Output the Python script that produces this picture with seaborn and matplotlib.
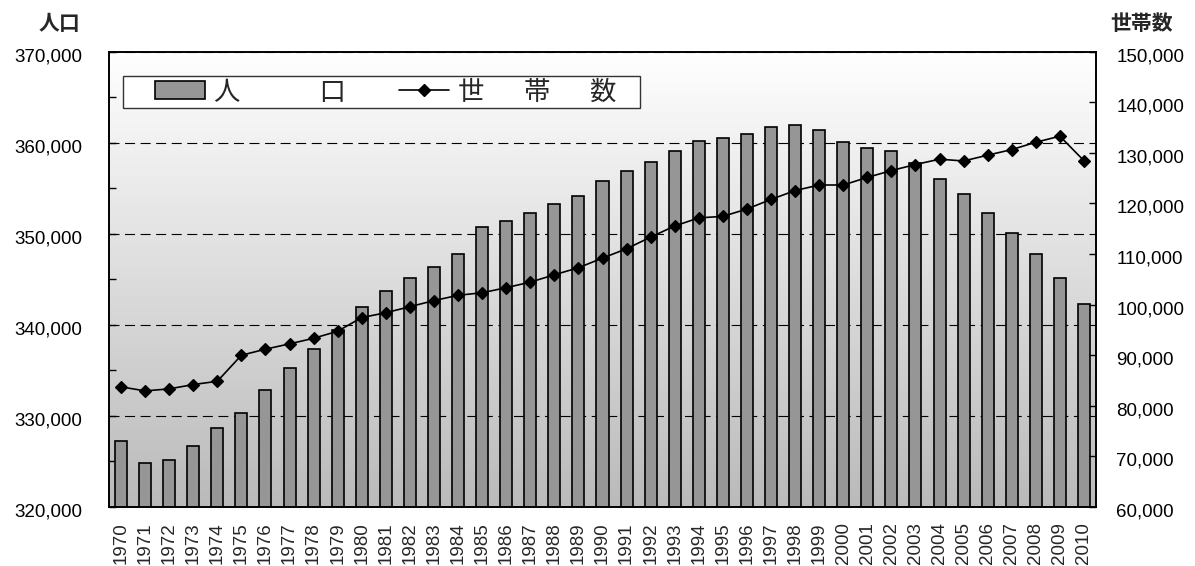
import numpy as np
import pandas as pd
import matplotlib
matplotlib.use("Agg")
import matplotlib.pyplot as plt
import matplotlib.transforms as mtransforms
from matplotlib.patches import Patch, Rectangle
from matplotlib.lines import Line2D
from matplotlib.colors import LinearSegmentedColormap
from matplotlib.ticker import FixedLocator, MultipleLocator
import seaborn as sns

# ---------------- data ----------------
years = [str(y) for y in range(1970, 2011)]
population = [
    327300, 324800, 325200, 326700, 328700, 330300, 332800, 335300, 337300, 339400,
    342000, 343700, 345150, 346350, 347800, 350750, 351450, 352250, 353300, 354150,
    355800, 356850, 357850, 359100, 360150, 360500, 360950, 361700, 361950, 361350,
    360100, 359450, 359100, 357750, 356000, 354350, 352250, 350100, 347800, 345100,
    342250,
]
households = [
    83750, 82950, 83350, 84200, 84850, 90000, 91200, 92250, 93350, 94750,
    97450, 98400, 99600, 100800, 101850, 102350, 103350, 104450, 105900, 107300,
    109200, 111050, 113350, 115550, 117150, 117450, 118900, 120800, 122550, 123650,
    123650, 125150, 126500, 127700, 128750, 128400, 129550, 130650, 132100, 133300,
    128450,
]
left_ticks = [320000, 330000, 340000, 350000, 360000, 370000]
right_ticks = [60000, 70000, 80000, 90000, 100000, 110000, 120000, 130000, 140000, 150000]
legend_labels = ["人\u3000\u3000\u3000口", "世\u3000\u2002帯\u3000\u2002数"]
left_title = "人口"
right_title = "世帯数"

# ---------------- style ----------------
sns.set_style("white")
plt.rcParams["font.family"] = ["Liberation Sans", "DejaVu Sans"]
CJK = ["Noto Sans CJK JP", "DejaVu Sans"]

W, H, DPI = 1195, 566, 100
fig = plt.figure(figsize=(W / DPI, H / DPI), dpi=DPI)
fig.patch.set_facecolor("white")

ax_l, ax_r, ax_t, ax_b = 109, 1096, 51.7, 507
ax = fig.add_axes([ax_l / W, 1 - ax_b / H, (ax_r - ax_l) / W, (ax_b - ax_t) / H])

# gradient background
grad = np.linspace(0, 1, 256).reshape(-1, 1)
cmap = LinearSegmentedColormap.from_list("bg", ["#ffffff", "#bababa"])
ax.imshow(grad, extent=[0, 1, 0, 1], transform=ax.transAxes, aspect="auto",
          cmap=cmap, origin="upper", zorder=0, interpolation="bilinear")

df = pd.DataFrame({"year": years, "population": population, "households": households})

sns.barplot(data=df, x="year", y="population", ax=ax, color="#969696", saturation=1,
            edgecolor="black", linewidth=1.2, width=0.5, zorder=2)

ax2 = ax.twinx()
sns.pointplot(data=df, x="year", y="households", ax=ax2, color="black", markers="D",
              markersize=6.2, linewidth=1.2, errorbar=None)

# limits & ticks
ax.set_xlim(-0.5, len(years) - 0.5)
ax.set_ylim(left_ticks[0], left_ticks[-1])
ax2.set_ylim(right_ticks[0], right_ticks[-1])
ax.yaxis.set_major_locator(FixedLocator(left_ticks))
ax.yaxis.set_minor_locator(MultipleLocator(5000))
ax.set_yticklabels([f"{v:,}" for v in left_ticks])
ax2.yaxis.set_major_locator(FixedLocator(right_ticks))
ax2.set_yticklabels([f"{v:,}" for v in right_ticks])

ax.set_xlabel("")
ax.set_ylabel("")
ax2.set_xlabel("")
ax2.set_ylabel("")

ax.tick_params(axis="y", which="both", direction="in", length=5, width=1.0,
               labelsize=13.5, pad=19.5, colors="black")
ax.tick_params(axis="x", length=0, labelsize=13.5, pad=11, labelrotation=90)
ax2.tick_params(axis="y", direction="in", length=5, width=1.0, labelsize=13.5,
                pad=14.5, colors="black")

# small downward nudge of y tick labels, as in reference
off = mtransforms.ScaledTranslation(0, -3 / DPI, fig.dpi_scale_trans)
for t in ax.yaxis.get_major_ticks():
    t.label1.set_transform(t.label1.get_transform() + off)
for t in ax2.yaxis.get_major_ticks():
    t.label2.set_transform(t.label2.get_transform() + off)

# grid
ax.set_axisbelow(True)
ax.yaxis.grid(True, which="major", color="black", linewidth=0.8,
              linestyle=(0, (9, 5)))
ax.xaxis.grid(False)

for a in (ax, ax2):
    for s in a.spines.values():
        s.set_visible(True)
        s.set_color("black")
        s.set_linewidth(1.2)

# legend (frame drawn separately)
lx0, lx1, ly0, ly1 = 123, 640, 76, 108
frame = Rectangle(((lx0 - ax_l) / (ax_r - ax_l), (ax_b - ly1) / (ax_b - ax_t)),
                  (lx1 - lx0) / (ax_r - ax_l), (ly1 - ly0) / (ax_b - ax_t),
                  transform=ax2.transAxes, facecolor="white", edgecolor="#333333",
                  linewidth=1.0, zorder=5)
ax2.add_patch(frame)
handles = [
    Patch(facecolor="#969696", edgecolor="black", linewidth=1.2),
    Line2D([], [], color="black", marker="D", markersize=6.2, linewidth=1.2),
]
leg = ax2.legend(handles, legend_labels, ncol=2, frameon=False, borderpad=0,
                 borderaxespad=0, loc="center left",
                 bbox_to_anchor=((155 - ax_l) / (ax_r - ax_l),
                                 (ax_b - (ly0 + ly1) / 2) / (ax_b - ax_t)),
                 handlelength=1.9, handleheight=0.65, handletextpad=0.35,
                 columnspacing=2.0, prop={"family": CJK, "size": 19})
leg.set_zorder(6)

# axis titles
fig.text(80 / W, 1 - 24 / H, left_title, ha="right", va="center",
         family=CJK, fontsize=15, fontweight="bold")
fig.text(1110 / W, 1 - 24 / H, right_title, ha="left", va="center",
         family=CJK, fontsize=15, fontweight="bold")

fig.savefig("out.png", dpi=DPI)
